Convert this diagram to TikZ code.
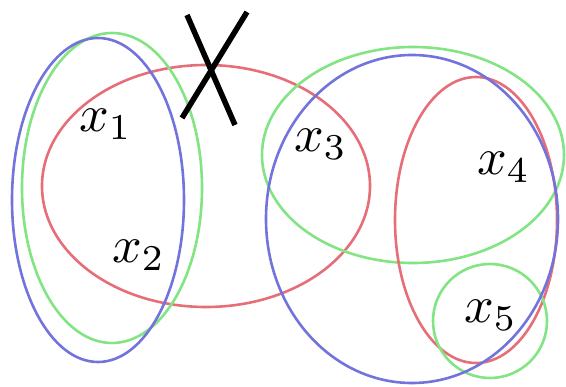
\documentclass[tikz,border=0pt]{standalone}
\begin{document}
\begin{tikzpicture}[x=1pt,y=-1pt,
  lab/.style={anchor=base west,inner sep=0pt,scale=5.2},
  ring/.style={line width=2.6pt}]
\definecolor{cred}{RGB}{230,110,120}
\definecolor{cgreen}{RGB}{130,228,130}
\definecolor{cblue}{RGB}{115,115,220}
\useasboundingbox (0,0) rectangle (566,387);
% left group
\draw[ring,cred] (206,186) ellipse [x radius=164, y radius=121];
\draw[ring,cgreen] (112,188) ellipse [x radius=90, y radius=155];
\draw[ring,cblue] (98,200) ellipse [x radius=86, y radius=162];
% right group
\draw[ring,cgreen] (413,155) ellipse [x radius=151, y radius=108];
\draw[ring,cred] (476,220) ellipse [x radius=81, y radius=143];
\draw[ring,cgreen] (490,321) circle [radius=57];
\draw[ring,cblue] (412,219) ellipse [x radius=146, y radius=164];
% cross
\coordinate (c1) at (182,118); \coordinate (c2) at (247,12);
\coordinate (c3) at (187,15); \coordinate (c4) at (235,125);
\draw[line width=5.5pt] (c1) -- (c2);
\draw[line width=5.5pt] (c3) -- (c4);
% labels
\node[lab] (x1) at (78,132) {$x_1$};
\node[lab] (x2) at (111,263) {$x_2$};
\node[lab] (x3) at (293,152) {$x_3$};
\node[lab] (x4) at (476,175) {$x_4$};
\node[lab] (x5) at (463,323) {$x_5$};
\end{tikzpicture}
\end{document}
